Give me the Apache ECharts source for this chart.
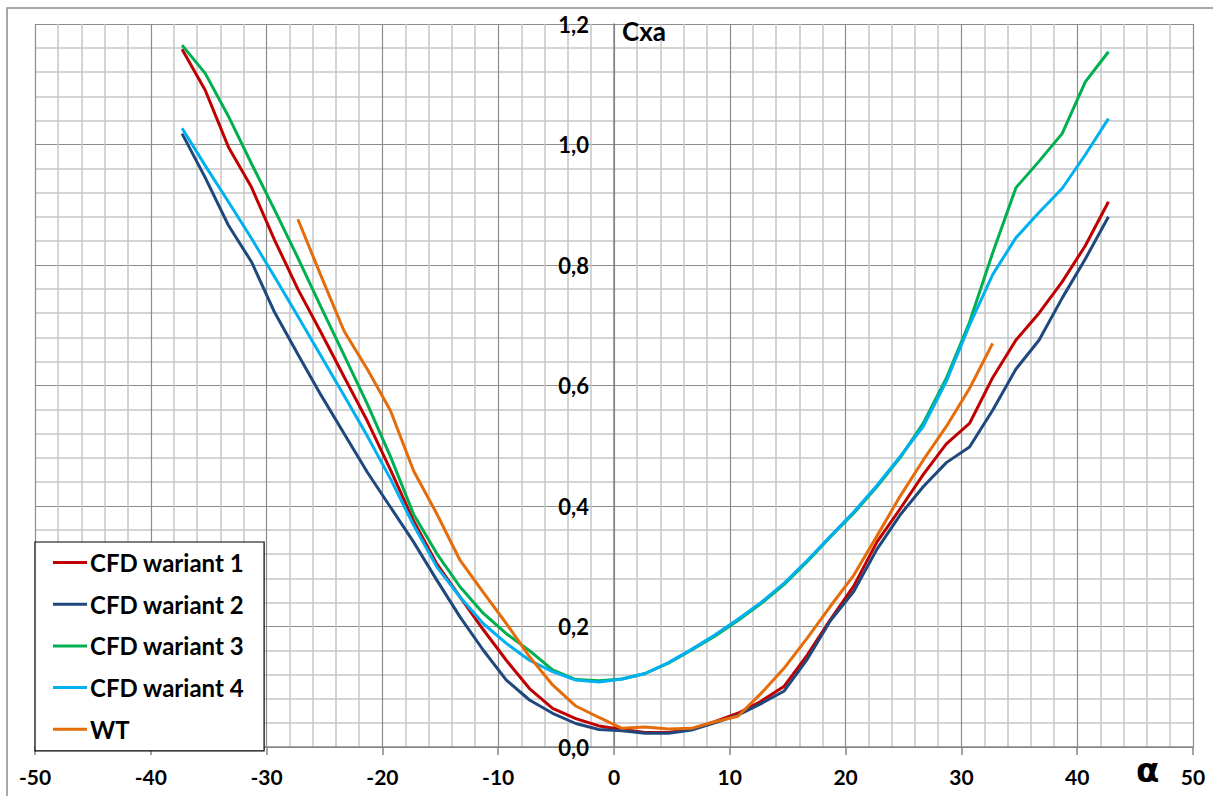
<!DOCTYPE html>
<html>
<head>
<meta charset="utf-8">
<script src="https://cdn.jsdelivr.net/npm/echarts@6/dist/echarts.min.js"></script>
<style>
html,body{margin:0;padding:0;background:#fff;}
#chart{width:1213px;height:796px;}
</style>
</head>
<body>
<div id="chart"></div>
<script>
// ---- data ----
const alphaCFD = [-37.3,-35.3,-33.3,-31.3,-29.3,-27.3,-25.3,-23.3,-21.3,-19.3,-17.3,-15.3,-13.3,-11.3,-9.3,-7.3,-5.3,-3.3,-1.3,0.7,2.7,4.7,6.7,8.7,10.7,12.7,14.7,16.7,18.7,20.7,22.7,24.7,26.7,28.7,30.7,32.7,34.7,36.7,38.7,40.7,42.7];
const cfd1 = [1.158,1.090,0.996,0.929,0.841,0.760,0.688,0.614,0.541,0.460,0.375,0.304,0.249,0.195,0.144,0.097,0.064,0.047,0.035,0.029,0.024,0.024,0.030,0.042,0.056,0.076,0.101,0.153,0.212,0.267,0.340,0.395,0.452,0.503,0.537,0.613,0.675,0.720,0.772,0.832,0.905];
const cfd2 = [1.018,0.945,0.866,0.805,0.721,0.652,0.584,0.520,0.456,0.398,0.340,0.277,0.216,0.161,0.111,0.078,0.056,0.039,0.029,0.027,0.023,0.023,0.028,0.040,0.053,0.072,0.093,0.146,0.210,0.258,0.328,0.385,0.432,0.472,0.498,0.559,0.627,0.675,0.745,0.810,0.880];
const cfd3 = [1.165,1.118,1.047,0.968,0.891,0.812,0.730,0.650,0.569,0.482,0.386,0.321,0.266,0.222,0.188,0.160,0.128,0.112,0.110,0.113,0.122,0.139,0.161,0.184,0.210,0.238,0.270,0.308,0.349,0.388,0.432,0.480,0.537,0.612,0.705,0.820,0.928,0.972,1.018,1.104,1.154];
const cfd4 = [1.027,0.965,0.905,0.844,0.780,0.715,0.649,0.583,0.516,0.445,0.368,0.299,0.249,0.205,0.172,0.144,0.125,0.111,0.108,0.113,0.122,0.140,0.162,0.186,0.212,0.240,0.272,0.310,0.350,0.390,0.434,0.482,0.532,0.607,0.700,0.784,0.845,0.887,0.927,0.983,1.043];
const alphaWT = [-27.3,-25.3,-23.3,-21.3,-19.3,-17.3,-15.3,-13.3,-11.3,-9.3,-7.3,-5.3,-3.3,-1.3,0.7,2.7,4.7,6.7,8.7,10.7,12.7,14.7,16.7,18.7,20.7,22.7,24.7,26.7,28.7,30.7,32.7];
const wt = [0.876,0.782,0.690,0.627,0.558,0.458,0.387,0.310,0.257,0.205,0.150,0.103,0.068,0.049,0.031,0.033,0.030,0.031,0.042,0.051,0.089,0.131,0.181,0.234,0.285,0.350,0.416,0.476,0.532,0.595,0.670];
const seriesNames = ['CFD wariant 1','CFD wariant 2','CFD wariant 3','CFD wariant 4','WT'];
const xTicks = [-50,-40,-30,-20,-10,0,10,20,30,40,50];
const yTicks = ['0,0','0,2','0,4','0,6','0,8','1,0','1,2'];
const xAxisTitle = 'α';
const yAxisTitle = 'Cxa';

// ---- build ----
const colors = ['#C00000','#1F497D','#00B050','#00B0F0','#E46C0A'];
function zip(xs, ys){ return xs.map((x,i)=>[x, ys[i]]); }
const seriesData = [zip(alphaCFD,cfd1), zip(alphaCFD,cfd2), zip(alphaCFD,cfd3), zip(alphaCFD,cfd4), zip(alphaWT,wt)];

const GRID_LEFT = 35, GRID_RIGHT = 20;
const plotW = 1213 - GRID_LEFT - GRID_RIGHT;
const xMin = xTicks[0], xMax = xTicks[xTicks.length-1];
// move the y axis to alpha = 0
const yAxisOffset = -plotW * (0 - xMin) / (xMax - xMin);

const chart = echarts.init(document.getElementById('chart'), null, {renderer:'svg'});
const FONT = 'Lato, "Open Sans", sans-serif';
chart.setOption({
  animation:false,
  backgroundColor:'#fff',
  textStyle:{fontFamily:FONT},
  grid:{left:GRID_LEFT,right:GRID_RIGHT,top:24,bottom:49,containLabel:false,outerBoundsMode:'none'},
  xAxis:{
    type:'value', min:xMin, max:xMax, interval:10,
    axisLine:{onZero:false,lineStyle:{color:'#868686',width:1.5}},
    axisTick:{show:true,length:8,lineStyle:{color:'#868686',width:1.5}},
    axisLabel:{margin:19,color:'#000',fontWeight:'bold',fontSize:21,fontFamily:FONT,
      formatter:v=> xTicks.indexOf(v)>=0 ? String(v) : ''},
    splitLine:{show:true,lineStyle:{color:'#8c8c8c',width:1.2}},
    minorTick:{show:false,splitNumber:5},
    minorSplitLine:{show:true,lineStyle:{color:'#c6c6c6',width:1.5}}
  },
  yAxis:{
    type:'value', min:0, max:1.2, interval:0.2,
    position:'left', offset:yAxisOffset,
    axisLine:{show:true,onZero:false,lineStyle:{color:'#868686',width:1.5}},
    axisTick:{show:false},
    axisLabel:{margin:25,color:'#000',fontWeight:'bold',fontSize:22,fontFamily:FONT,
      formatter:v=> yTicks[Math.round(v/0.2)]},
    splitLine:{show:true,lineStyle:{color:'#8c8c8c',width:1.2}},
    minorTick:{show:false,splitNumber:5},
    minorSplitLine:{show:true,lineStyle:{color:'#c6c6c6',width:1.5}},
    name:yAxisTitle, nameLocation:'end', nameGap:6,
    nameTextStyle:{align:'left',verticalAlign:'top',padding:[0,0,0,8],color:'#000',fontWeight:'bold',fontSize:26,fontFamily:FONT}
  },
  legend:{
    orient:'vertical', left:35, top:542,
    data:seriesNames,
    icon:'rect', itemWidth:34, itemHeight:3, itemGap:16.7,
    padding:[8,20,9,18],
    backgroundColor:'#fff', borderColor:'#000', borderWidth:1.2,
    textStyle:{color:'#000',fontWeight:'bold',fontSize:24,lineHeight:25,fontFamily:FONT,padding:[0,0,0,-2]}
  },
  graphic:[
    {type:'rect',shape:{x:7,y:8,width:1230,height:820},style:{fill:'none',stroke:'#8c8c8c',lineWidth:1.5},z:-10,silent:true},
    {type:'text',left:1136,top:753,style:{text:xAxisTitle,fontSize:34,fontWeight:'bold',fill:'#000',fontFamily:'"DejaVu Sans", sans-serif'}}
  ],
  series: seriesData.map((d,i)=>({
    name:seriesNames[i], type:'line', data:d, showSymbol:false, symbol:'none',
    lineStyle:{color:colors[i],width:3}, itemStyle:{color:colors[i]},
    z: 2+i
  }))
});
</script>
</body>
</html>
